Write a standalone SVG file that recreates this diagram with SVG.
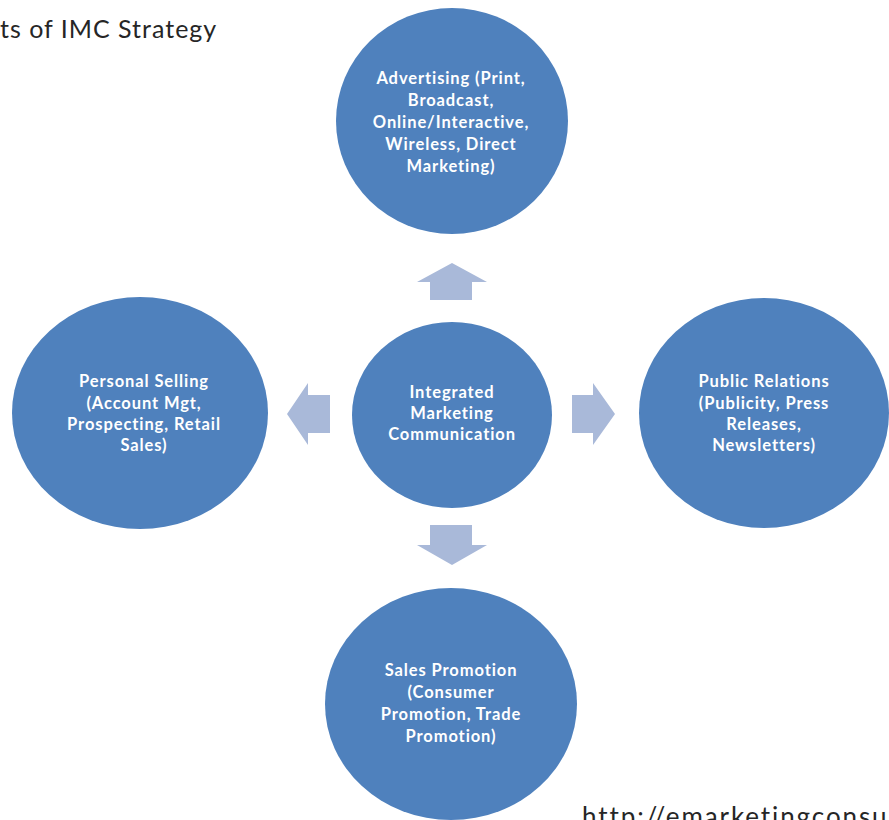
<svg xmlns="http://www.w3.org/2000/svg" width="889" height="820" viewBox="0 0 889 820">
  <style>
    .node { fill: #4f81bd; }
    .lbl { fill: #ffffff; font-family: Lato, "Open Sans", "Liberation Sans", sans-serif; font-weight: bold; font-size: 16.5px; text-anchor: middle; letter-spacing: 0.9px; }
    .arrow { fill: #a9b9d9; }
    .plain { fill: #262626; font-family: Lato, "Open Sans", "Liberation Sans", sans-serif; }
  </style>
  <rect x="0" y="0" width="889" height="820" fill="#ffffff"/>
  <text class="plain" x="0" y="38" font-size="25" letter-spacing="1">ts of IMC Strategy</text>

  <g id="connectors">
    <polygon class="arrow" points="430,300 430,282 417,282 452,263 487,282 472,282 472,300"/>
    <polygon class="arrow" points="430,525 472,525 472,545 487,545 452,565 417,545 430,545"/>
    <polygon class="arrow" points="330,395 308,395 308,383 287,414 308,445 308,433 330,433"/>
    <polygon class="arrow" points="572,395 593,395 593,383 615,414 593,445 593,433 572,433"/>
  </g>

  <g id="node-advertising">
    <ellipse class="node" cx="452" cy="121" rx="116" ry="113"/>
    <text class="lbl"><tspan x="451" y="84">Advertising (Print,</tspan><tspan x="451" y="106">Broadcast,</tspan><tspan x="451" y="128">Online/Interactive,</tspan><tspan x="451" y="150">Wireless, Direct</tspan><tspan x="451" y="172">Marketing)</tspan></text>
  </g>

  <g id="node-personal-selling">
    <ellipse class="node" cx="140" cy="413" rx="128" ry="116"/>
    <text class="lbl"><tspan x="144" y="387">Personal Selling</tspan><tspan x="144" y="409">(Account Mgt,</tspan><tspan x="144" y="430">Prospecting, Retail</tspan><tspan x="144" y="451">Sales)</tspan></text>
  </g>

  <g id="node-imc">
    <ellipse class="node" cx="452" cy="415" rx="100" ry="93"/>
    <text class="lbl"><tspan x="452" y="398">Integrated</tspan><tspan x="452" y="419">Marketing</tspan><tspan x="452" y="440">Communication</tspan></text>
  </g>

  <g id="node-public-relations">
    <ellipse class="node" cx="764" cy="413" rx="125" ry="115"/>
    <text class="lbl"><tspan x="764" y="387">Public Relations</tspan><tspan x="764" y="409">(Publicity, Press</tspan><tspan x="764" y="430">Releases,</tspan><tspan x="764" y="451">Newsletters)</tspan></text>
  </g>

  <g id="node-sales-promotion">
    <ellipse class="node" cx="451" cy="704" rx="126" ry="116"/>
    <text class="lbl"><tspan x="451" y="676">Sales Promotion</tspan><tspan x="451" y="698">(Consumer</tspan><tspan x="451" y="720">Promotion, Trade</tspan><tspan x="451" y="742">Promotion)</tspan></text>
  </g>

  <text class="plain" x="582" y="826" font-size="26" letter-spacing="1.9">http://emarketingconsu</text>
</svg>
